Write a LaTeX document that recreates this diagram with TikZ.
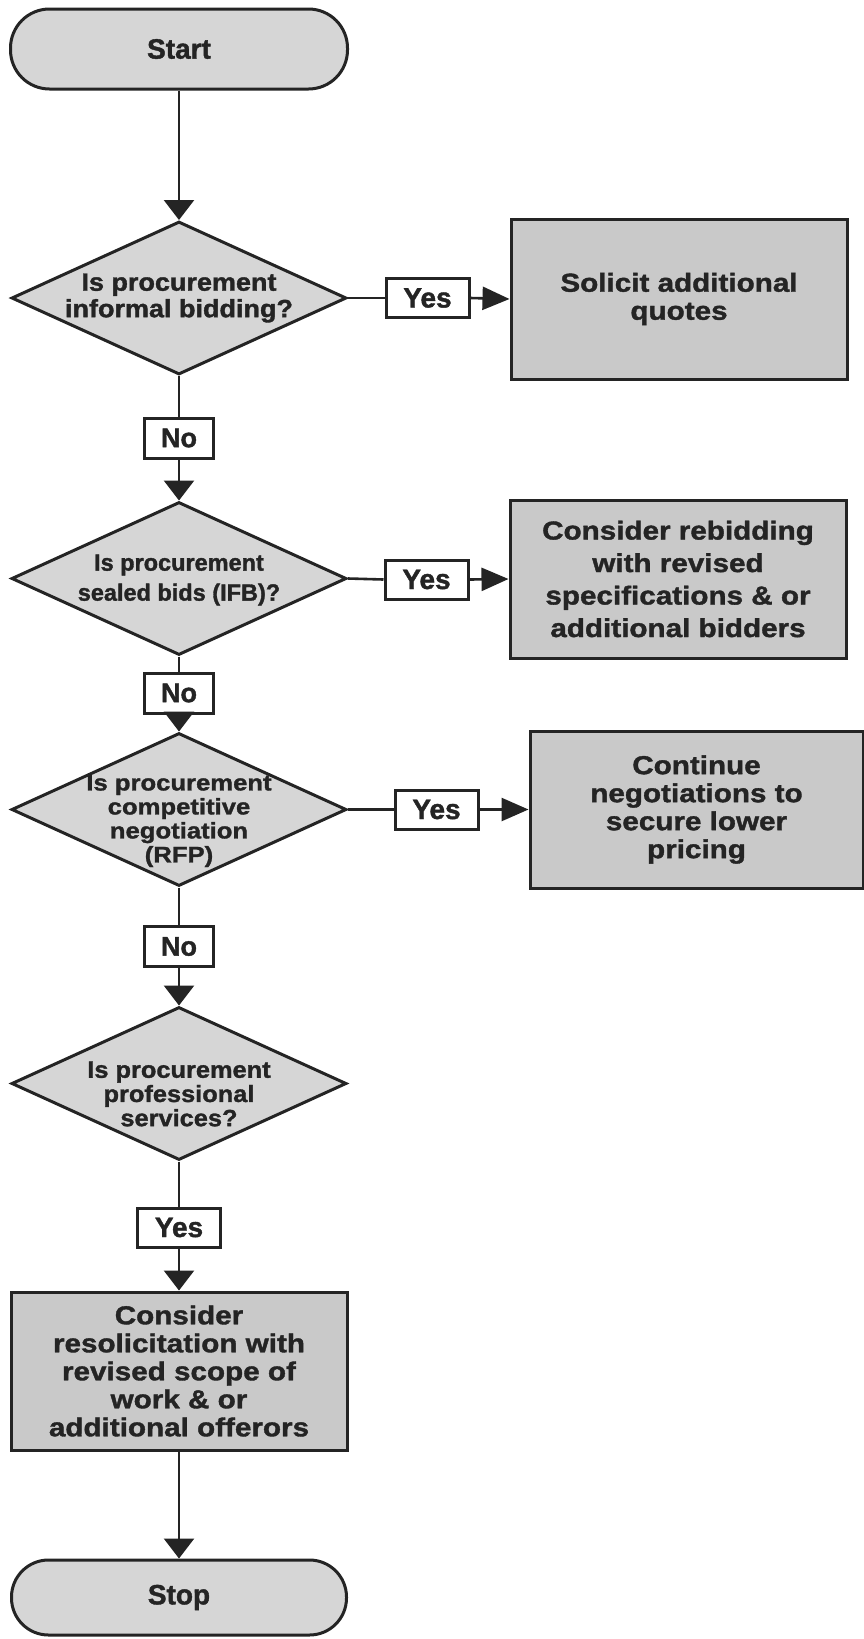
\documentclass[tikz,border=0pt]{standalone}
\usepackage{fontspec}
\setmainfont{Liberation Sans}[BoldFeatures={FakeBold=1.4}]
\newfontfamily\sfa{Liberation Sans}[FakeStretch=1.08, BoldFeatures={FakeBold=1.4}]
\newfontfamily\sfb{Liberation Sans}[FakeStretch=1.14, BoldFeatures={FakeBold=1.4}]
\usetikzlibrary{shapes.geometric,arrows.meta}
\definecolor{ink}{HTML}{242424}
\definecolor{boxfill}{HTML}{C9C9C9}
\definecolor{lightfill}{HTML}{D6D6D6}
\begin{document}
\begin{tikzpicture}[x=1pt,y=-1pt,
  conn/.style={draw=ink, line width=2.6pt},
  arr/.style={conn, -{Triangle[length=20pt,width=30pt]}},
  harr/.style={conn, -{Triangle[length=27pt,width=23pt]}},
  term/.style={draw=ink, line width=3pt, fill=lightfill, rounded corners=39pt,
    minimum width=337pt, minimum height=80pt, inner sep=0pt,
    font=\bfseries\fontsize{28}{28}\selectfont, text=ink},
  dshape/.style={draw=ink, line width=3pt, fill=lightfill, shape=diamond,
    minimum width=335pt, minimum height=153pt, inner sep=0pt},
  dtext/.style={text=ink, align=center, inner sep=0pt},
  pbox/.style={draw=ink, line width=3pt, fill=boxfill, inner sep=0pt,
    align=center, font=\sfb\bfseries\fontsize{26}{28}\selectfont, text=ink},
  yesbox/.style={draw=ink, line width=3pt, fill=white, inner sep=0pt,
    minimum width=83pt, minimum height=39pt,
    font=\bfseries\fontsize{28}{28}\selectfont, text=ink},
  nobox/.style={draw=ink, line width=3pt, fill=white, inner sep=0pt,
    minimum width=69pt, minimum height=40pt,
    font=\bfseries\fontsize{27}{27}\selectfont, text=ink}
]
\useasboundingbox (0,0) rectangle (864,1639);
\fill[white] (0,0) rectangle (864,1639);

% column
\node[term] (start) at (179,49) {Start};

\node[dshape] (d1) at (179,298) {};
\node[dtext, font=\sfa\bfseries\fontsize{25}{26.5}\selectfont] (d1t) at (179,298) {Is procurement\\informal bidding?};
\node[yesbox] (y1) at (427.5,298) {Yes};
\node[pbox, minimum width=336pt, minimum height=160pt] (b1) at (679,299) {Solicit additional\\quotes};
\node[nobox] (n1) at (179,438) {No};

\node[dshape] (d2) at (179,578.5) {};
\node[dtext, font=\bfseries\fontsize{23.5}{30}\selectfont] (d2t) at (179,580) {Is procurement\\sealed bids (IFB)?};
\node[yesbox] (y2) at (426.5,579.5) {Yes};
\node[pbox, minimum width=336pt, minimum height=158pt,
  font=\sfb\bfseries\fontsize{26}{32.5}\selectfont] (b2) at (678,579) {Consider rebidding\\with revised\\specifications \& or\\additional bidders};
\node[nobox] (n2) at (179,693) {No};

\node[dshape] (d3) at (179,809.5) {};
\node[dtext, font=\sfb\bfseries\fontsize{22.5}{24}\selectfont] (d3t) at (179,821) {Is procurement\\competitive\\negotiation\\(RFP)};
\node[yesbox] (y3) at (436.5,809.5) {Yes};
\node[pbox, minimum width=333pt, minimum height=157pt] (b3) at (696.5,809.5) {Continue\\negotiations to\\secure lower\\pricing};
\node[nobox] (n3) at (179,946.5) {No};

\node[dshape] (d4) at (179,1083.5) {};
\node[dtext, font=\sfa\bfseries\fontsize{23.5}{24.2}\selectfont] (d4t) at (179,1094) {Is procurement\\professional\\services?};
\node[yesbox] (y4) at (179,1227.5) {Yes};
\node[pbox, minimum width=336pt, minimum height=158pt] (b4) at (179,1371) {Consider\\resolicitation with\\revised scope of\\work \& or\\additional offerors};
\node[term, minimum width=335pt, minimum height=75pt, rounded corners=37pt] (stop) at (179,1597.5) {Stop};

% connectors
\draw[arr] (start.south) -- (d1.north);
\draw[conn] (d1.east) -- (y1.west);
\draw[harr] (y1.east) -- (b1.west);
\draw[conn] (d1.south) -- (n1.north);
\draw[arr] (n1.south) -- (d2.north);

\draw[conn] (d2.east) -- (y2.west);
\draw[harr] (y2.east) -- (b2.west);
\draw[conn] (d2.south) -- (n2.north);
\draw[arr] (n2.south) -- (d3.north);

\draw[conn] (d3.east) -- (y3.west);
\draw[harr] (y3.east) -- (b3.west);
\draw[conn] (d3.south) -- (n3.north);
\draw[arr] (n3.south) -- (d4.north);

\draw[conn] (d4.south) -- (y4.north);
\draw[arr] (y4.south) -- (b4.north);
\draw[arr] (b4.south) -- (stop.north);
\end{tikzpicture}
\end{document}
